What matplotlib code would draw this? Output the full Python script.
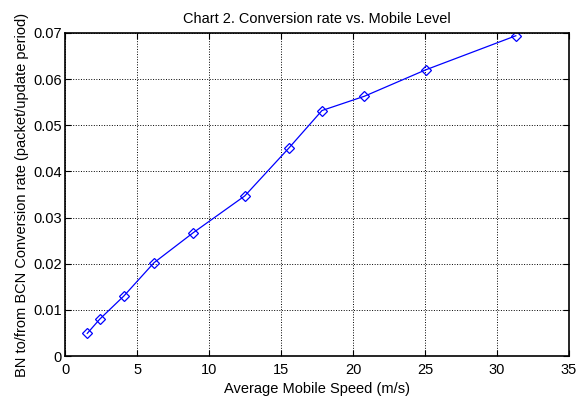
import matplotlib.pyplot as plt

plt.rcParams.update({
    'font.family': ['Liberation Sans', 'DejaVu Sans'],
    'font.size': 10.5,
})

speed = [1.54, 2.41, 4.08, 6.17, 8.89, 12.48, 15.55, 17.84, 20.79, 25.03, 31.3]
rate = [0.0049, 0.0080, 0.0130, 0.0202, 0.0267, 0.0347, 0.0451, 0.0532, 0.0563, 0.0620, 0.0694]
xticks = [0, 5, 10, 15, 20, 25, 30, 35]
yticks = [0, 0.01, 0.02, 0.03, 0.04, 0.05, 0.06, 0.07]

fig = plt.figure(figsize=(5.76, 4), dpi=100)
ax = fig.add_axes([0.113, 0.11, 0.875, 0.8075])

ax.plot(speed, rate, color='blue', linewidth=0.9, marker='D', markersize=5.5,
        markerfacecolor='none', markeredgecolor='blue', markeredgewidth=0.9)

ax.set_xlim(0, 35)
ax.set_ylim(0, 0.07)
ax.set_xticks(xticks)
ax.set_yticks(yticks)
ax.set_yticklabels(['0', '0.01', '0.02', '0.03', '0.04', '0.05', '0.06', '0.07'])
ax.grid(True, color='black', linestyle=':', linewidth=0.7)
ax.tick_params(direction='in', top=True, right=True, length=4, width=0.8)
ax.tick_params(axis='x', pad=5)
ax.tick_params(axis='y', pad=2.5)
for s in ax.spines.values():
    s.set_linewidth(1.2)

title = ax.set_title('Chart 2. Conversion rate vs. Mobile Level', fontsize=10, pad=7)
ax.set_xlabel('Average Mobile Speed (m/s)', labelpad=3.5)
ax.set_ylabel('BN to/from BCN Conversion rate (packet/update period)', labelpad=3)

# size the title so it is about 267 px wide, as in the reference
renderer = fig.canvas.get_renderer()
w = title.get_window_extent(renderer).width
title.set_fontsize(10 * 267 / w)

fig.savefig('out.png', dpi=100)
